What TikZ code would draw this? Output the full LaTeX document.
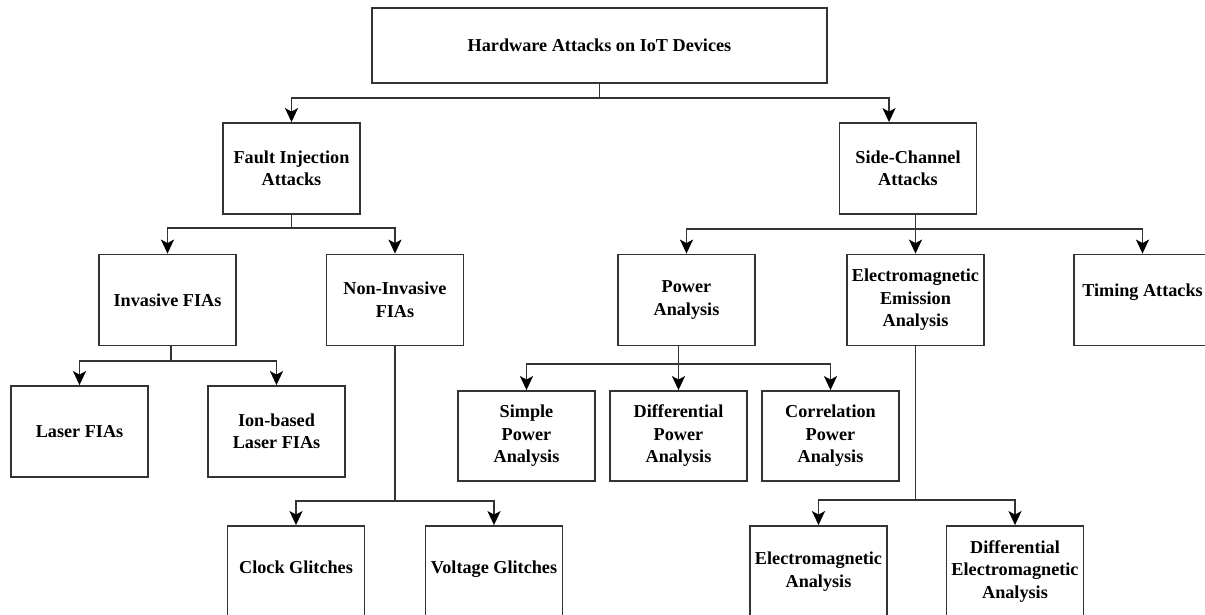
\documentclass[tikz,border=0pt]{standalone}
\usepackage{fontspec}
\setmainfont{Liberation Serif}
\usetikzlibrary{arrows.meta}
\begin{document}
\begin{tikzpicture}[x=1bp,y=-1bp,
  box/.style={draw=black!80, line width=1.8bp, minimum width=137bp, minimum height=91bp,
    inner sep=2bp, align=center, font=\fontsize{18.2bp}{22.5bp}\selectfont\bfseries},
  raised/.style={text height=13bp, text depth=#1},
  link/.style={draw=black!80, line width=1.8bp},
  arr/.style={link, -{Stealth[length=14bp,width=13bp,inset=3.5bp,fill=black,color=black]}}]
\useasboundingbox (0,0) rectangle (1205,615);
\clip (0,0) rectangle (1205,615);

% boxes
\node[box, minimum width=455bp, minimum height=75bp] (root) at (599.5,45.5) {Hardware Attacks on IoT Devices};
\node[box] (fia) at (291.5,168.5) {Fault Injection\\Attacks};
\node[box] (sca) at (908,168.5) {Side-Channel\\Attacks};
\node[box] (inv) at (167.5,300) {Invasive FIAs};
\node[box] (ninv) at (395,300) {Non-Invasive\\FIAs};
\node[box] (pa) at (686.5,300) {Power\\Analysis};
\node[box] (eme) at (915.5,300) {Electromagnetic\\Emission\\Analysis};
\node[box, raised=19bp] (ta) at (1142.5,300) {Timing Attacks};
\node[box] (lfia) at (79.5,431.5) {Laser FIAs};
\node[box] (ion) at (276.5,431.5) {Ion-based\\Laser FIAs};
\node[box, minimum height=90bp] (spa) at (526.5,436) {Simple\\Power\\Analysis};
\node[box, minimum height=90bp] (dpa) at (678.5,436) {Differential\\Power\\Analysis};
\node[box, minimum height=90bp] (cpa) at (830.5,436) {Correlation\\Power\\Analysis};
\node[box, raised=10bp] (clk) at (296,571.5) {Clock Glitches};
\node[box, raised=10bp] (vg) at (494,571.5) {Voltage Glitches};
\node[box] (ema) at (818.5,571.5) {Electromagnetic\\Analysis};
\node[box] (dema) at (1015,571.5) {Differential\\Electromagnetic\\Analysis};

% junction points of the branches
\coordinate (b0) at (599.5,98);
\coordinate (b1) at (291.5,228);
\coordinate (b2) at (915.5,229);
\coordinate (b3) at (171,361);
\coordinate (b4) at (395,501);
\coordinate (b5) at (678.5,364);
\coordinate (b6) at (915.5,500);

% connectors
\draw[link] (root.south) -- (b0);
\draw[arr] (b0) -| (fia.north);
\draw[arr] (b0) -| ([xshift=-19bp]sca.north);

\draw[link] (fia.south) -- (b1);
\draw[arr] (b1) -| (inv.north);
\draw[arr] (b1) -| (ninv.north);

\draw[link] (b2 |- sca.south) -- (b2);
\draw[arr] (b2) -| (pa.north);
\draw[arr] (b2) -- (eme.north);
\draw[arr] (b2) -| (ta.north);

\draw[link] (b3 |- inv.south) -- (b3);
\draw[arr] (b3) -| (lfia.north);
\draw[arr] (b3) -| (ion.north);

\draw[link] (ninv.south) -- (b4);
\draw[arr] (b4) -| (clk.north);
\draw[arr] (b4) -| (vg.north);

\draw[link] (b5 |- pa.south) -- (b5);
\draw[arr] (b5) -| (spa.north);
\draw[arr] (b5) -- (dpa.north);
\draw[arr] (b5) -| (cpa.north);

\draw[link] (eme.south) -- (b6);
\draw[arr] (b6) -| (ema.north);
\draw[arr] (b6) -| (dema.north);
\end{tikzpicture}
\end{document}
